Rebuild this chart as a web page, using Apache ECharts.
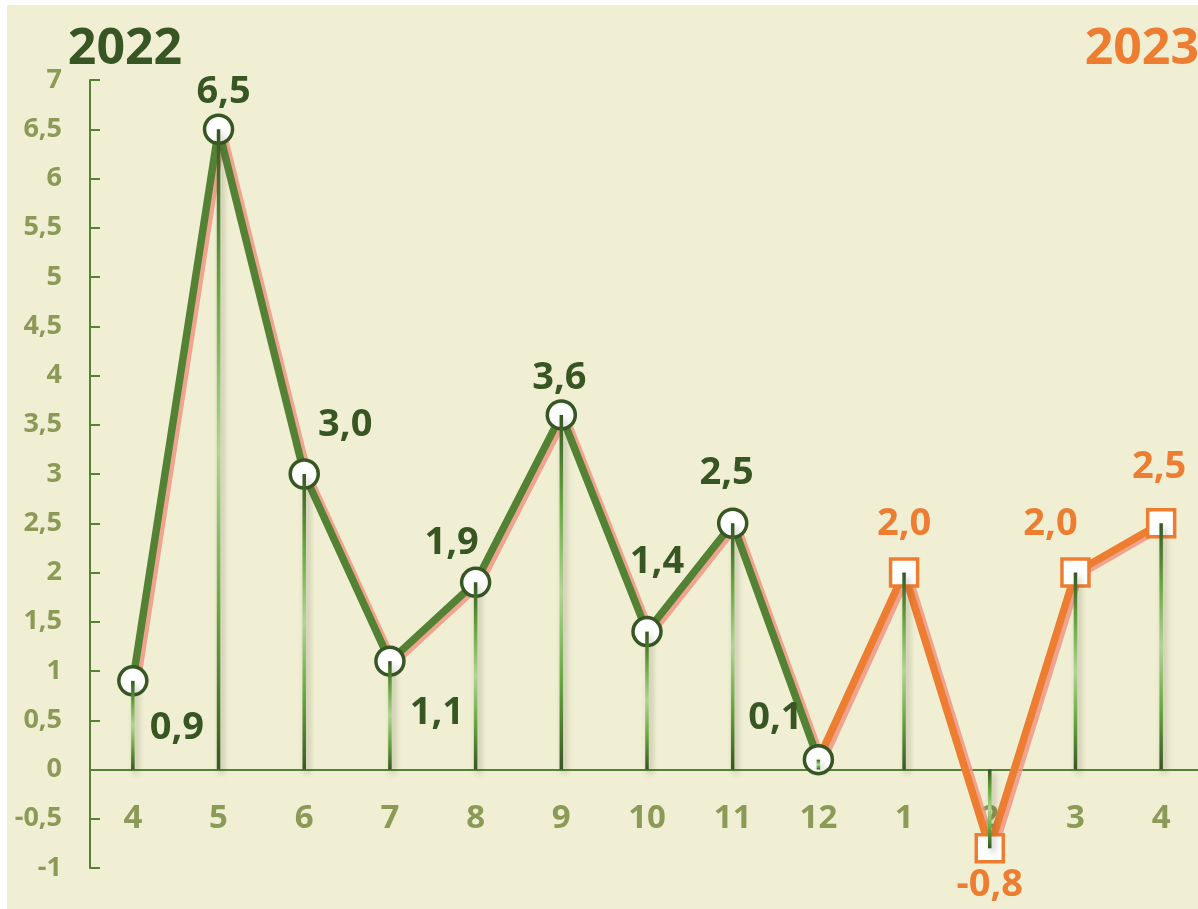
<!DOCTYPE html>
<html>
<head>
<meta charset="utf-8">
<script src="https://cdn.jsdelivr.net/npm/echarts@6/dist/echarts.min.js"></script>
<style>
html,body{margin:0;padding:0;background:#ffffff;}
#chart{width:1198px;height:909px;}
</style>
</head>
<body>
<div id="chart"></div>
<script>
// ---- data ----
const categories = ['4','5','6','7','8','9','10','11','12','1','2','3','4'];
const values2022 = [0.9, 6.5, 3.0, 1.1, 1.9, 3.6, 1.4, 2.5, 0.1, null, null, null, null];
const values2023 = [null, null, null, null, null, null, null, null, 0.1, 2.0, -0.8, 2.0, 2.5];
const allValues  = [0.9, 6.5, 3.0, 1.1, 1.9, 3.6, 1.4, 2.5, 0.1, 2.0, -0.8, 2.0, 2.5];
const yTicks = { min: -1, max: 7, interval: 0.5 };
const title2022 = '2022';
const title2023 = '2023';

// label placement (pixel offsets from each point)
const labelOffsets = [[44,47],[5,-37],[41,-49],[47,52],[-24,-39],[-2,-37],[10,-69],[-6,-50],[-43,-41],
                      [0,-48],[0,37],[-25,-48],[-2,-56]];

const GREEN = '#548235', DARK = '#375623', ORANGE = '#ed7d31', OLIVE = '#8c9a57';
const FONT = '"Open Sans", "Noto Sans", sans-serif';
const fmt = v => v.toFixed(1).replace('.', ',');

const GRID_TOP = 80, GRID_H = 788;
const zeroFromBottom = GRID_H * (0 - yTicks.min) / (yTicks.max - yTicks.min);

const greenData = values2022.map((v, i) => v === null ? null : {
  value: v,
  label: { offset: labelOffsets[i] }
});
const orangeData = values2023.map((v, i) => {
  if (v === null) return null;
  if (i === 8) return { value: v, symbol: 'none', label: { show: false } };
  return { value: v, label: { offset: labelOffsets[i] } };
});

const chart = echarts.init(document.getElementById('chart'));
chart.setOption({
  backgroundColor: '#ffffff',
  animation: false,
  graphic: [
    { type: 'rect', z: -10, shape: { x: 7, y: 5, width: 1191, height: 904 }, style: { fill: '#f0eed3' } },
    { type: 'text', x: 125, y: 50, style: { text: title2022, fill: DARK, font: 'bold 50px ' + FONT, textAlign: 'center', textVerticalAlign: 'middle' } },
    { type: 'text', x: 1199, y: 50, style: { text: title2023, fill: ORANGE, font: 'bold 50px ' + FONT, textAlign: 'right', textVerticalAlign: 'middle' } }
  ],
  grid: { left: 90, top: GRID_TOP, width: 1114, height: GRID_H, outerBoundsMode: 'none', containLabel: false },
  xAxis: {
    type: 'category',
    data: categories,
    position: 'bottom',
    offset: -zeroFromBottom,
    axisLine: { onZero: false, lineStyle: { color: GREEN, width: 2 } },
    axisTick: { show: false },
    axisLabel: { color: OLIVE, fontSize: 33, fontWeight: 'bold', fontFamily: FONT, margin: 33, interval: 0 },
    splitLine: { show: false }
  },
  yAxis: {
    type: 'value',
    min: yTicks.min, max: yTicks.max, interval: yTicks.interval,
    axisLine: { show: true, lineStyle: { color: GREEN, width: 2 } },
    axisTick: { show: true, inside: true, length: 10, lineStyle: { color: GREEN, width: 2 } },
    axisLabel: { color: OLIVE, fontSize: 27, fontWeight: 'bold', fontFamily: FONT, margin: 28,
                 formatter: v => String(v).replace('.', ',') },
    splitLine: { show: false }
  },
  series: [
    {
      name: '2023', type: 'line', data: orangeData,
      symbol: 'rect', symbolSize: 27,
      itemStyle: { color: '#ffffff', borderColor: ORANGE, borderWidth: 3.5 },
      lineStyle: { color: ORANGE, width: 7.5, shadowColor: 'rgba(240,150,130,0.85)', shadowBlur: 0, shadowOffsetX: 4, shadowOffsetY: 2 },
      label: { show: true, position: 'inside', color: ORANGE, fontSize: 38, fontWeight: 'bold', fontFamily: FONT,
               formatter: p => fmt(p.value) },
      z: 2
    },
    {
      name: '2022', type: 'line', data: greenData,
      symbol: 'circle', symbolSize: 28,
      itemStyle: { color: '#ffffff', borderColor: DARK, borderWidth: 3.5 },
      lineStyle: { color: GREEN, width: 7.5, shadowColor: 'rgba(240,150,130,0.85)', shadowBlur: 0, shadowOffsetX: 4, shadowOffsetY: 2 },
      label: { show: true, position: 'inside', color: DARK, fontSize: 38, fontWeight: 'bold', fontFamily: FONT,
               formatter: p => fmt(p.value) },
      z: 3
    },
    {
      name: 'drop', type: 'bar', data: allValues, barWidth: 3.5,
      itemStyle: {
        color: new echarts.graphic.LinearGradient(0, 0, 0, 1, [
          { offset: 0, color: '#375623' },
          { offset: 0.25, color: '#65a83e' },
          { offset: 0.5, color: '#b0d494' },
          { offset: 0.75, color: '#65a83e' },
          { offset: 1, color: '#375623' }
        ]),
        shadowColor: 'rgba(60,60,30,0.35)', shadowBlur: 6, shadowOffsetX: 3, shadowOffsetY: 4
      },
      z: 4, silent: true
    }
  ]
});
</script>
</body>
</html>
